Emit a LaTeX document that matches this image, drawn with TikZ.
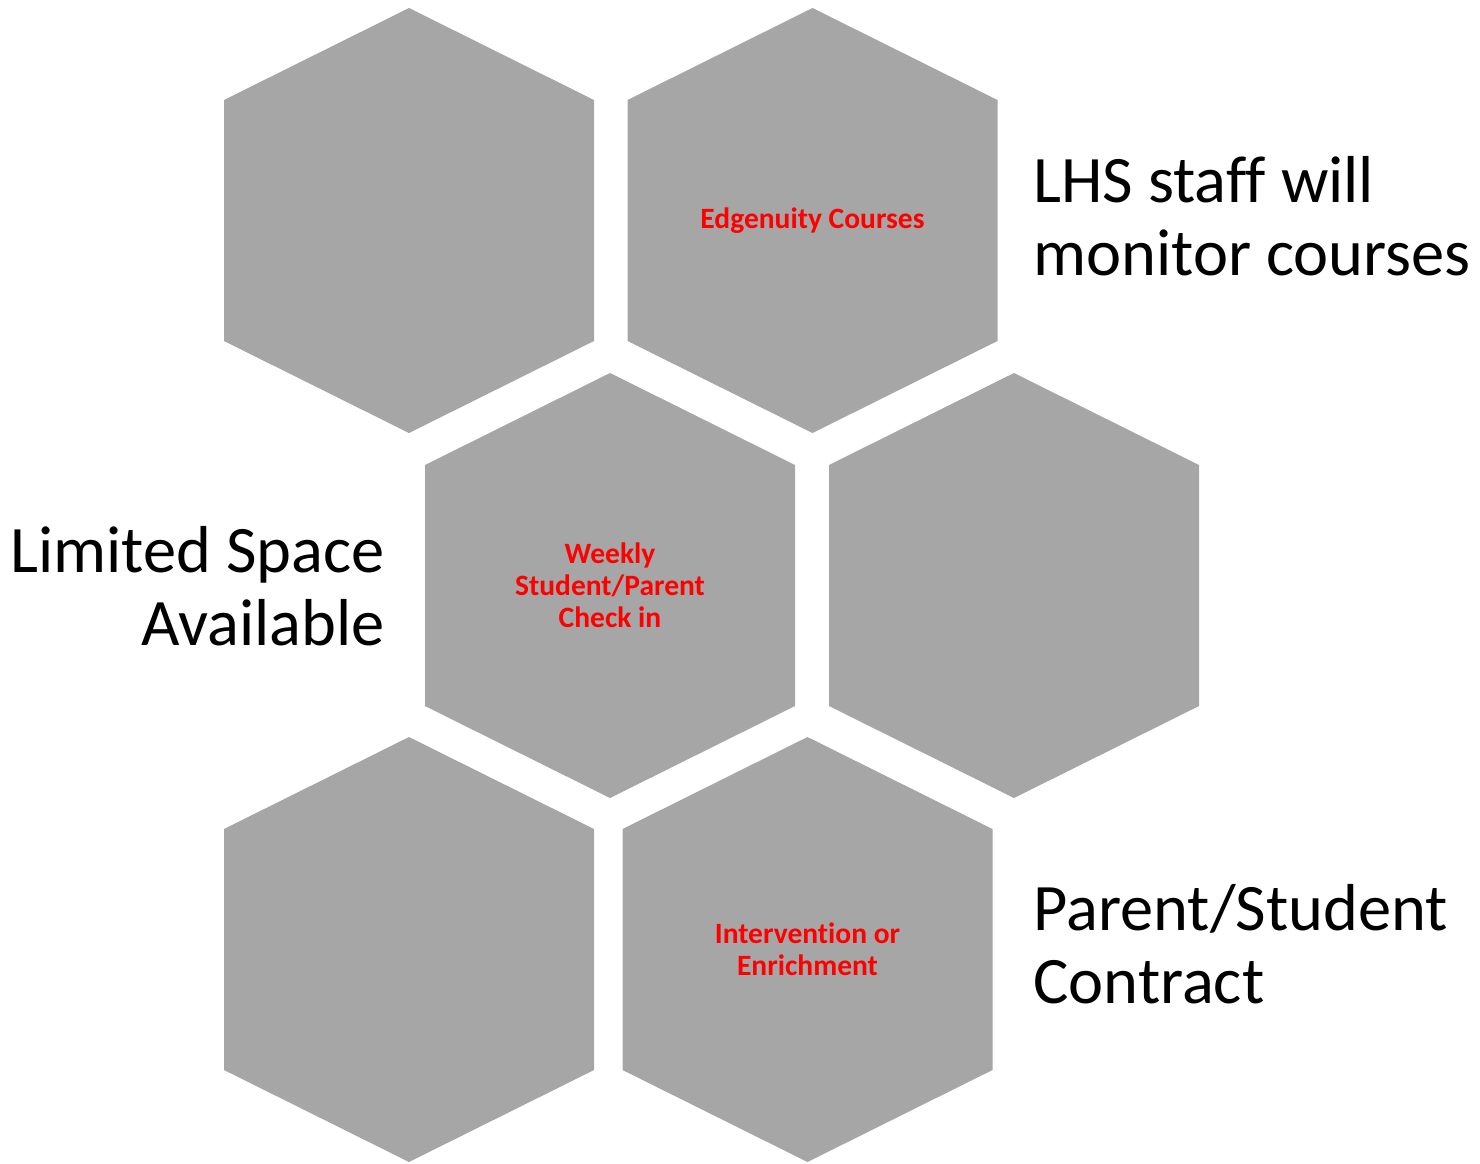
\documentclass[tikz,border=0pt]{standalone}
\usepackage{fontspec}
\setmainfont[Ligatures={NoCommon}]{Carlito}
\usepackage{tikz}
\usetikzlibrary{positioning}

\definecolor{hexgray}{HTML}{A6A6A6}
\definecolor{cellred}{HTML}{FF0000}

\tikzset{
	hexcell/.style={fill=hexgray, draw=none},
	celltext/.style={text=cellred, font=\fontsize{16.8}{18.2}\selectfont\bfseries, align=center, inner sep=0pt},
	sidetext/.style={font=\fontsize{37.8}{41.5}\selectfont, inner sep=0pt}
}

\begin{document}
\begin{tikzpicture}[x=0.02cm, y=-0.02cm]
				\useasboundingbox (0,0) rectangle (1480,1163);

				% honeycomb cells
				\foreach \cx/\cy in {409/220.5, 812.5/220.5, 610/585.5, 1014/585.5, 409/949.5, 807.5/949.5}
					\fill [hexcell] (\cx,\cy-212.5) -- (\cx+185,\cy-120.5) -- (\cx+185,\cy+120.5)
						-- (\cx,\cy+212.5) -- (\cx-185,\cy+120.5) -- (\cx-185,\cy-120.5) -- cycle;

				\node [celltext] (edgenuity)	at (812.5,220.5) {Edgenuity Courses};
				\node [celltext] (checkin)		at (610,585.5)   {Weekly\\Student/Parent\\Check in};
				\node [celltext] (intervention)	at (807.5,949.5) {Intervention or\\Enrichment};

				% side captions (base = last line)
				\node [sidetext, anchor=base west, align=left]	(monitor)	at (1033,275)  {LHS staff will\\monitor courses};
				\node [sidetext, anchor=base east, align=right]	(space)		at (385,645)   {Limited Space\\Available};
				\node [sidetext, anchor=base west, align=left]	(contract)	at (1033,1003) {Parent/Student\\Contract};
\end{tikzpicture}
\end{document}
